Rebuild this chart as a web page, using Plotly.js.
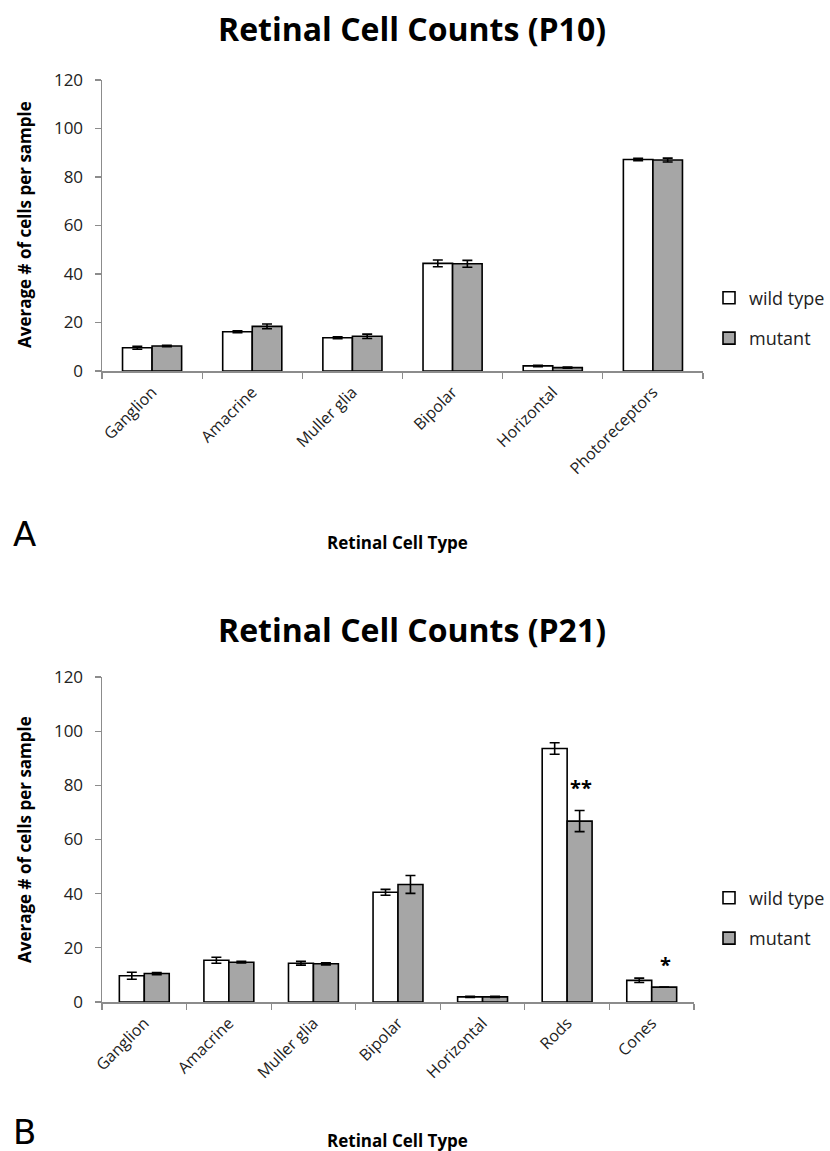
<!DOCTYPE html>
<html>
<head>
<meta charset="utf-8">
<script src="https://cdn.plot.ly/plotly-3.0.1.min.js"></script>
<style>html,body{margin:0;padding:0;background:#fff}#chart{width:830px;height:1151px}</style>
</head>
<body>
<div id="chart"></div>
<script>
// ---- Data ----
const categoriesP10 = ["Ganglion", "Amacrine", "Muller glia", "Bipolar", "Horizontal", "Photoreceptors"];
const wildTypeP10 = [9.6, 16.2, 13.7, 44.4, 2.1, 87.2];
const wildTypeP10Err = [0.6, 0.4, 0.4, 1.4, 0.3, 0.5];
const mutantP10 = [10.3, 18.4, 14.3, 44.2, 1.4, 87.0];
const mutantP10Err = [0.3, 1.0, 0.9, 1.4, 0.2, 0.8];

const categoriesP21 = ["Ganglion", "Amacrine", "Muller glia", "Bipolar", "Horizontal", "Rods", "Cones"];
const wildTypeP21 = [9.7, 15.4, 14.3, 40.5, 1.9, 93.6, 8.0];
const wildTypeP21Err = [1.3, 1.1, 0.7, 1.1, 0.2, 2.1, 0.8];
const mutantP21 = [10.5, 14.7, 14.1, 43.4, 1.9, 66.8, 5.5];
const mutantP21Err = [0.4, 0.3, 0.4, 3.3, 0.2, 3.9, 0];

const yTickVals = [0, 20, 40, 60, 80, 100, 120];
const significance = [{cat: "Rods", text: "**"}, {cat: "Cones", text: "*"}];

// ---- Styles ----
const W = 830, H = 1151;
const FONT = "Open Sans, Lato, sans-serif";
const wtColor = "#ffffff", mutColor = "#a6a6a6";
const lineStyle = {color: "#000", width: 1.6};
const errStyle = (arr) => ({type: "data", array: arr, visible: true, color: "#000", thickness: 1.6, width: 5});

function barTrace(name, x, y, err, color, xa, ya, legend, group) {
  return {
    type: "bar", name: name, x: x, y: y,
    marker: {color: color, line: lineStyle},
    error_y: errStyle(err),
    xaxis: xa, yaxis: ya, legend: legend, legendgroup: group,
    hoverinfo: "x+y+name"
  };
}

const traces = [
  barTrace("wild type", categoriesP10, wildTypeP10, wildTypeP10Err, wtColor, "x", "y", "legend", "wt"),
  barTrace("mutant", categoriesP10, mutantP10, mutantP10Err, mutColor, "x", "y", "legend", "mut"),
  barTrace("wild type", categoriesP21, wildTypeP21, wildTypeP21Err, wtColor, "x2", "y2", "legend2", "wt2"),
  barTrace("mutant", categoriesP21, mutantP21, mutantP21Err, mutColor, "x2", "y2", "legend2", "mut2")
];

const px = (v) => v / W;
const py = (v) => (H - v) / H;

const xaxisBase = {
  type: "category", showline: true, linecolor: "#8c8c8c", linewidth: 1.5,
  ticks: "outside", tickson: "boundaries", ticklen: 6, tickcolor: "#8c8c8c", tickwidth: 1.2,
  tickangle: -45, tickfont: {family: FONT, size: 16, color: "#222"}, ticklabelstandoff: 4,
  showgrid: false, zeroline: false, fixedrange: true
};
const yaxisBase = {
  range: [0, 120], tickvals: yTickVals, ticktext: yTickVals.map(String),
  showline: true, linecolor: "#8c8c8c", linewidth: 1.5,
  ticks: "outside", ticklen: 6, tickcolor: "#8c8c8c", tickwidth: 1.2,
  tickfont: {family: FONT, size: 17, color: "#222"}, ticklabelstandoff: 8,
  showgrid: false, zeroline: false, fixedrange: true
};

const annFont = (size) => ({family: FONT, size: size, color: "#000"});

const annotations = [
  {text: "<b>Retinal Cell Counts (P10)</b>", x: px(412), y: py(29), xref: "paper", yref: "paper", showarrow: false, font: annFont(32), xanchor: "center", yanchor: "middle"},
  {text: "<b>Retinal Cell Counts (P21)</b>", x: px(412), y: py(629), xref: "paper", yref: "paper", showarrow: false, font: annFont(32), xanchor: "center", yanchor: "middle"},
  {text: "<b>Average # of cells per sample</b>", x: px(24), y: py(225), xref: "paper", yref: "paper", showarrow: false, textangle: -90, font: annFont(17), xanchor: "center", yanchor: "middle"},
  {text: "<b>Average # of cells per sample</b>", x: px(24), y: py(840), xref: "paper", yref: "paper", showarrow: false, textangle: -90, font: annFont(17), xanchor: "center", yanchor: "middle"},
  {text: "<b>Retinal Cell Type</b>", x: px(397), y: py(542), xref: "paper", yref: "paper", showarrow: false, font: annFont(17), xanchor: "center", yanchor: "middle"},
  {text: "<b>Retinal Cell Type</b>", x: px(397), y: py(1140), xref: "paper", yref: "paper", showarrow: false, font: annFont(17), xanchor: "center", yanchor: "middle"},
  {text: "A", x: px(24), y: py(534), xref: "paper", yref: "paper", showarrow: false, font: {family: "DejaVu Sans, sans-serif", size: 34, color: "#000"}, xanchor: "center", yanchor: "middle"},
  {text: "B", x: px(24), y: py(1132), xref: "paper", yref: "paper", showarrow: false, font: {family: "DejaVu Sans, sans-serif", size: 34, color: "#000"}, xanchor: "center", yanchor: "middle"}
];

significance.forEach((s) => {
  const i = categoriesP21.indexOf(s.cat);
  annotations.push({
    text: "<b>" + s.text + "</b>", x: s.cat, xref: "x2", yref: "y2",
    y: mutantP21[i] + mutantP21Err[i], xshift: 14, yshift: 23,
    showarrow: false, font: annFont(20), xanchor: "center", yanchor: "middle"
  });
});

const legendBase = {
  font: {family: FONT, size: 18, color: "#222"}, bgcolor: "rgba(0,0,0,0)",
  xref: "paper", yref: "paper", xanchor: "left", yanchor: "middle",
  traceorder: "grouped", tracegroupgap: 14, itemwidth: 30
};

const layout = {
  width: W, height: H, margin: {l: 0, r: 0, t: 0, b: 0},
  paper_bgcolor: "#fff", plot_bgcolor: "#fff",
  barmode: "group", bargap: 0.41, bargroupgap: 0,
  showlegend: true,
  xaxis: Object.assign({}, xaxisBase, {domain: [px(102), px(703)], anchor: "y"}),
  yaxis: Object.assign({}, yaxisBase, {domain: [py(371), py(80)], anchor: "x"}),
  xaxis2: Object.assign({}, xaxisBase, {domain: [px(102), px(694)], anchor: "y2"}),
  yaxis2: Object.assign({}, yaxisBase, {domain: [py(1002), py(677)], anchor: "x2"}),
  legend: Object.assign({}, legendBase, {x: px(709), y: py(318)}),
  legend2: Object.assign({}, legendBase, {x: px(709), y: py(918)}),
  annotations: annotations
};

Plotly.newPlot("chart", traces, layout, {displayModeBar: false, staticPlot: true});
</script>
</body>
</html>
